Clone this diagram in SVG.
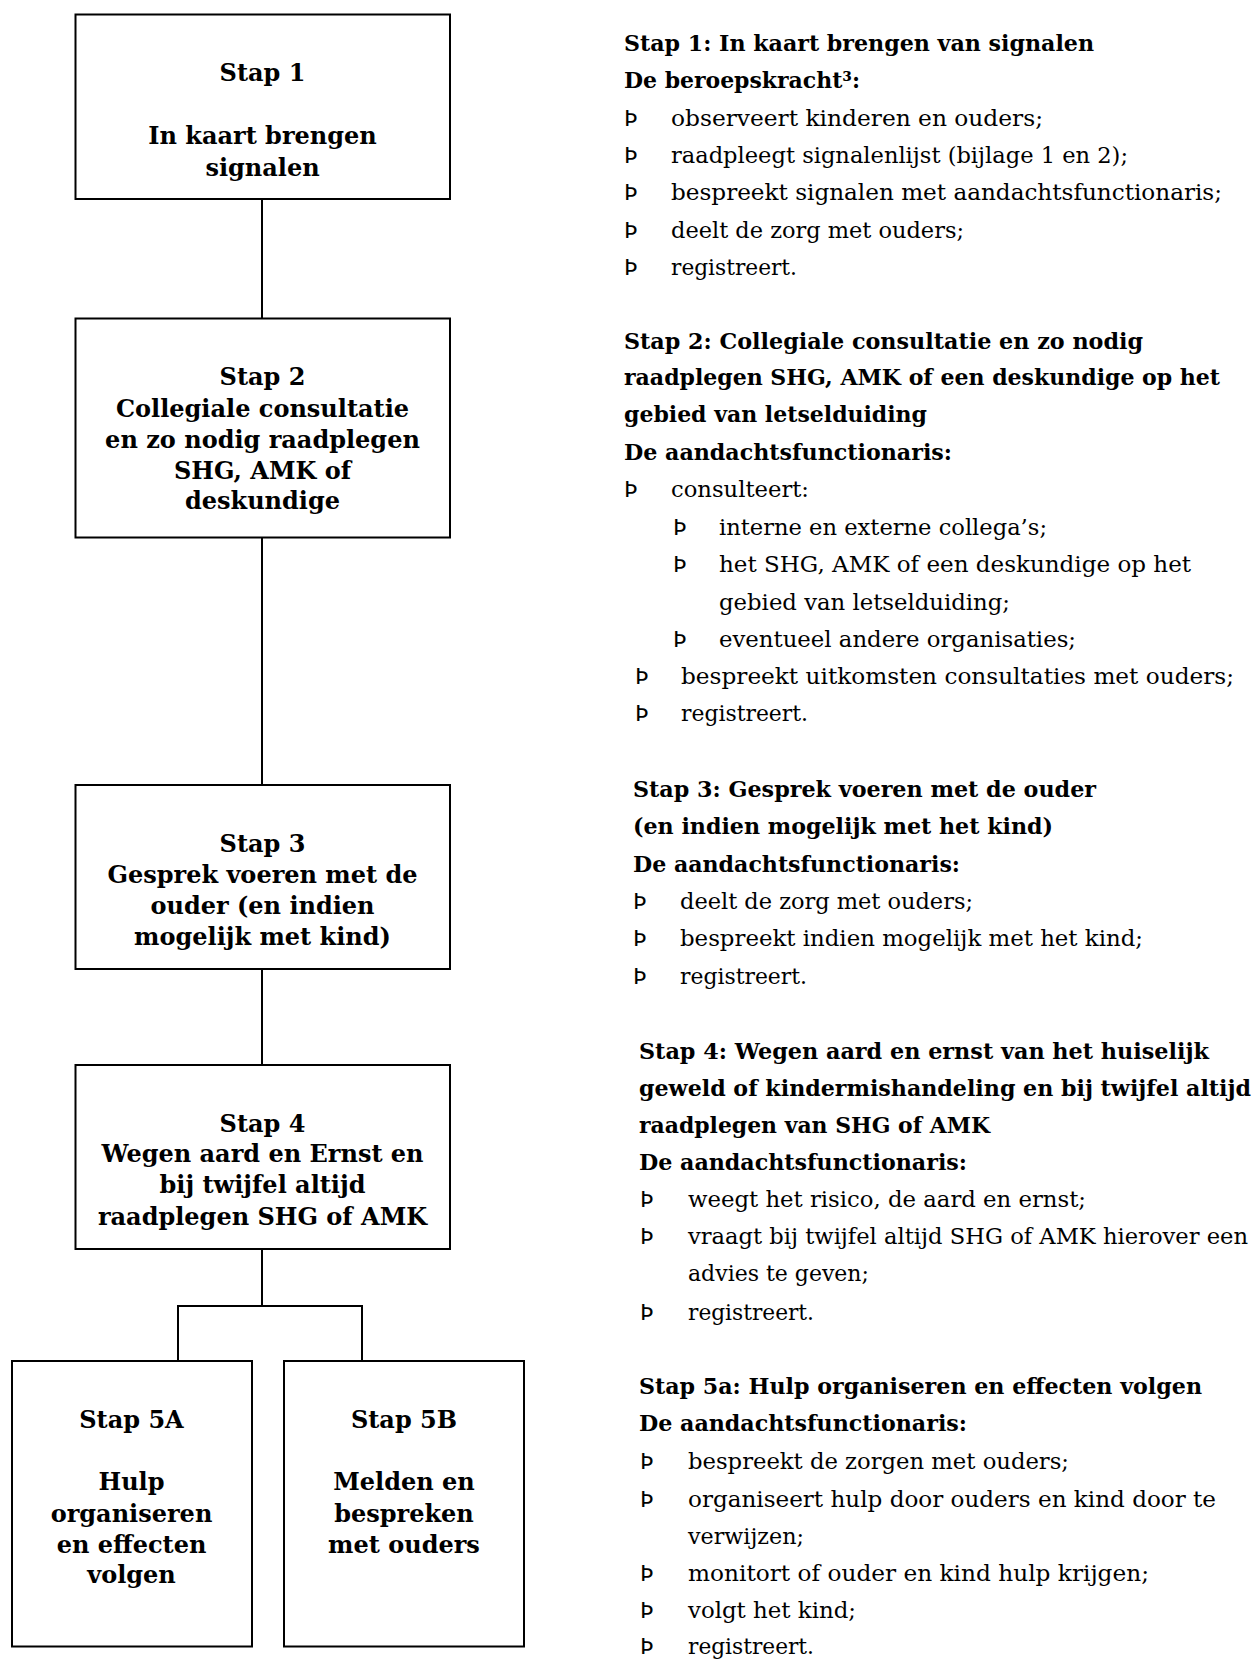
<svg xmlns="http://www.w3.org/2000/svg" width="1254" height="1659" viewBox="0 0 1254 1659">
<style>
.box{fill:#fff;stroke:#000;stroke-width:2}
.con{fill:none;stroke:#000;stroke-width:2}
.bt{font-family:"DejaVu Serif","Liberation Serif",serif;font-weight:bold;font-size:24px;text-anchor:middle;fill:#000}
.h{font-family:"DejaVu Serif","Liberation Serif",serif;font-weight:bold;font-size:22px;fill:#000}
.t{font-family:"DejaVu Serif","Liberation Serif",serif;font-size:22px;fill:#000}
.b{font-family:"DejaVu Sans","Liberation Sans",sans-serif;font-size:22px;fill:#000}
</style>
<rect width="1254" height="1659" fill="#fff"/>
<g id="connectors">
<line class="con" x1="262" y1="199" x2="262" y2="318"/>
<line class="con" x1="262" y1="538" x2="262" y2="785"/>
<line class="con" x1="262" y1="969" x2="262" y2="1065"/>
<polyline class="con" points="262,1249 262,1306"/>
<polyline class="con" points="178,1361 178,1306 362,1306 362,1361"/>
</g>
<g id="stap1">
<rect class="box" x="75.5" y="14.5" width="374.5" height="184.5"/>
<text class="bt" x="262.5" y="81">Stap 1</text>
<text class="bt" x="262.5" y="144">In kaart brengen</text>
<text class="bt" x="262.5" y="175.5">signalen</text>
</g>
<g id="stap2">
<rect class="box" x="75.5" y="318.5" width="374.5" height="219"/>
<text class="bt" x="262.5" y="385">Stap 2</text>
<text class="bt" x="262.5" y="417">Collegiale consultatie</text>
<text class="bt" x="262.5" y="448">en zo nodig raadplegen</text>
<text class="bt" x="262.5" y="479">SHG, AMK of</text>
<text class="bt" x="262.5" y="509">deskundige</text>
</g>
<g id="stap3">
<rect class="box" x="75.5" y="785" width="374.5" height="184"/>
<text class="bt" x="262.5" y="851.5">Stap 3</text>
<text class="bt" x="262.5" y="882.5">Gesprek voeren met de</text>
<text class="bt" x="262.5" y="913.5">ouder (en indien</text>
<text class="bt" x="262.5" y="945">mogelijk met kind)</text>
</g>
<g id="stap4">
<rect class="box" x="75.5" y="1065" width="374.5" height="184"/>
<text class="bt" x="262.5" y="1131.5">Stap 4</text>
<text class="bt" x="262.5" y="1162">Wegen aard en Ernst en</text>
<text class="bt" x="262.5" y="1193">bij twijfel altijd</text>
<text class="bt" x="262.5" y="1225">raadplegen SHG of AMK</text>
</g>
<g id="stap5a">
<rect class="box" x="12" y="1361" width="240" height="285.5"/>
<text class="bt" x="131.5" y="1428">Stap 5A</text>
<text class="bt" x="131.5" y="1490">Hulp</text>
<text class="bt" x="131.5" y="1521.5">organiseren</text>
<text class="bt" x="131.5" y="1552.5">en effecten</text>
<text class="bt" x="131.5" y="1582.5">volgen</text>
</g>
<g id="stap5b">
<rect class="box" x="284" y="1361" width="240" height="285.5"/>
<text class="bt" x="404" y="1428">Stap 5B</text>
<text class="bt" x="404" y="1490">Melden en</text>
<text class="bt" x="404" y="1521.5">bespreken</text>
<text class="bt" x="404" y="1552.5">met ouders</text>
</g>
<g id="beschrijving">
<text class="h" x="624" y="51" textLength="470" lengthAdjust="spacingAndGlyphs">Stap 1: In kaart brengen van signalen</text>
<text class="h" x="624" y="88" textLength="236" lengthAdjust="spacingAndGlyphs">De beroepskracht³:</text>
<text class="b" x="624" y="125.5">Þ</text><text class="t" x="671" y="125.5" textLength="372" lengthAdjust="spacingAndGlyphs">observeert kinderen en ouders;</text>
<text class="b" x="624" y="163">Þ</text><text class="t" x="671" y="163" textLength="457" lengthAdjust="spacingAndGlyphs">raadpleegt signalenlijst (bijlage 1 en 2);</text>
<text class="b" x="624" y="200">Þ</text><text class="t" x="671" y="200" textLength="551" lengthAdjust="spacingAndGlyphs">bespreekt signalen met aandachtsfunctionaris;</text>
<text class="b" x="624" y="237.5">Þ</text><text class="t" x="671" y="237.5" textLength="293" lengthAdjust="spacingAndGlyphs">deelt de zorg met ouders;</text>
<text class="b" x="624" y="274.5">Þ</text><text class="t" x="671" y="274.5" textLength="126" lengthAdjust="spacingAndGlyphs">registreert.</text>

<text class="h" x="624" y="349" textLength="519" lengthAdjust="spacingAndGlyphs">Stap 2: Collegiale consultatie en zo nodig</text>
<text class="h" x="624" y="385" textLength="596" lengthAdjust="spacingAndGlyphs">raadplegen SHG, AMK of een deskundige op het</text>
<text class="h" x="624" y="422" textLength="303" lengthAdjust="spacingAndGlyphs">gebied van letselduiding</text>
<text class="h" x="624" y="460" textLength="328" lengthAdjust="spacingAndGlyphs">De aandachtsfunctionaris:</text>
<text class="b" x="624" y="497">Þ</text><text class="t" x="671" y="497" textLength="138" lengthAdjust="spacingAndGlyphs">consulteert:</text>
<text class="b" x="673" y="534.5">Þ</text><text class="t" x="719" y="534.5" textLength="328" lengthAdjust="spacingAndGlyphs">interne en externe collega’s;</text>
<text class="b" x="673" y="572">Þ</text><text class="t" x="719" y="572" textLength="472" lengthAdjust="spacingAndGlyphs">het SHG, AMK of een deskundige op het</text>
<text class="t" x="719" y="609.5" textLength="291" lengthAdjust="spacingAndGlyphs">gebied van letselduiding;</text>
<text class="b" x="673" y="646.5">Þ</text><text class="t" x="719" y="646.5" textLength="357" lengthAdjust="spacingAndGlyphs">eventueel andere organisaties;</text>
<text class="b" x="635" y="684">Þ</text><text class="t" x="681" y="684" textLength="553" lengthAdjust="spacingAndGlyphs">bespreekt uitkomsten consultaties met ouders;</text>
<text class="b" x="635" y="721">Þ</text><text class="t" x="681" y="721" textLength="127" lengthAdjust="spacingAndGlyphs">registreert.</text>

<text class="h" x="633" y="797" textLength="463" lengthAdjust="spacingAndGlyphs">Stap 3: Gesprek voeren met de ouder</text>
<text class="h" x="633" y="834" textLength="420" lengthAdjust="spacingAndGlyphs">(en indien mogelijk met het kind)</text>
<text class="h" x="633" y="872" textLength="327" lengthAdjust="spacingAndGlyphs">De aandachtsfunctionaris:</text>
<text class="b" x="633" y="909">Þ</text><text class="t" x="680" y="909" textLength="293" lengthAdjust="spacingAndGlyphs">deelt de zorg met ouders;</text>
<text class="b" x="633" y="946">Þ</text><text class="t" x="680" y="946" textLength="463" lengthAdjust="spacingAndGlyphs">bespreekt indien mogelijk met het kind;</text>
<text class="b" x="633" y="984">Þ</text><text class="t" x="680" y="984" textLength="127" lengthAdjust="spacingAndGlyphs">registreert.</text>

<text class="h" x="639" y="1059" textLength="570" lengthAdjust="spacingAndGlyphs">Stap 4: Wegen aard en ernst van het huiselijk</text>
<text class="h" x="639" y="1096" textLength="612" lengthAdjust="spacingAndGlyphs">geweld of kindermishandeling en bij twijfel altijd</text>
<text class="h" x="639" y="1133" textLength="351" lengthAdjust="spacingAndGlyphs">raadplegen van SHG of AMK</text>
<text class="h" x="639" y="1170" textLength="328" lengthAdjust="spacingAndGlyphs">De aandachtsfunctionaris:</text>
<text class="b" x="640" y="1207">Þ</text><text class="t" x="688" y="1207" textLength="398" lengthAdjust="spacingAndGlyphs">weegt het risico, de aard en ernst;</text>
<text class="b" x="640" y="1244">Þ</text><text class="t" x="688" y="1244" textLength="560" lengthAdjust="spacingAndGlyphs">vraagt bij twijfel altijd SHG of AMK hierover een</text>
<text class="t" x="688" y="1281">advies te geven;</text>
<text class="b" x="640" y="1320">Þ</text><text class="t" x="688" y="1320" textLength="126" lengthAdjust="spacingAndGlyphs">registreert.</text>

<text class="h" x="639" y="1394" textLength="563" lengthAdjust="spacingAndGlyphs">Stap 5a: Hulp organiseren en effecten volgen</text>
<text class="h" x="639" y="1431" textLength="328" lengthAdjust="spacingAndGlyphs">De aandachtsfunctionaris:</text>
<text class="b" x="640" y="1469">Þ</text><text class="t" x="688" y="1469" textLength="381" lengthAdjust="spacingAndGlyphs">bespreekt de zorgen met ouders;</text>
<text class="b" x="640" y="1507">Þ</text><text class="t" x="688" y="1507" textLength="528" lengthAdjust="spacingAndGlyphs">organiseert hulp door ouders en kind door te</text>
<text class="t" x="688" y="1544" textLength="116" lengthAdjust="spacingAndGlyphs">verwijzen;</text>
<text class="b" x="640" y="1581">Þ</text><text class="t" x="688" y="1581" textLength="461" lengthAdjust="spacingAndGlyphs">monitort of ouder en kind hulp krijgen;</text>
<text class="b" x="640" y="1618">Þ</text><text class="t" x="688" y="1618" textLength="168" lengthAdjust="spacingAndGlyphs">volgt het kind;</text>
<text class="b" x="640" y="1654">Þ</text><text class="t" x="688" y="1654" textLength="126" lengthAdjust="spacingAndGlyphs">registreert.</text>
</g>
</svg>
